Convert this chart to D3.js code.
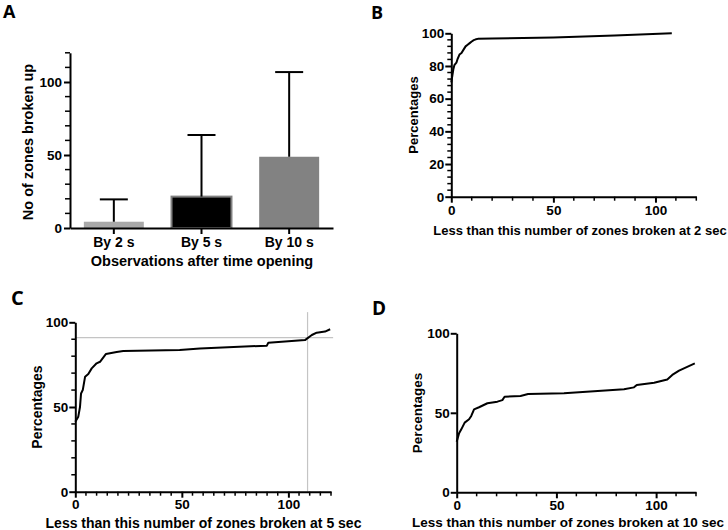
<!DOCTYPE html>
<html><head><meta charset="utf-8">
<script src="https://cdn.jsdelivr.net/npm/d3@7"></script>
<style>
body{margin:0;background:#fff;}
svg{display:block;}
text{font-family:"Liberation Sans",Arial,sans-serif;font-weight:bold;fill:#000;}
.letter{font-family:"Open Sans",sans-serif;font-weight:700;}
</style></head>
<body>
<svg id="c" width="728" height="530"></svg>
<script>
// ---- Data ----
const barCategories = ["By 2 s", "By 5 s", "By 10 s"];
const barMeans = [4.3, 21.5, 48.8];
const barUpper = [19.6, 63.7, 106.8];
const barColors = ["#a9a9a9", "#000000", "#828282"];

const bX = [0, 0.5, 1, 1.5, 2.5, 3, 4, 5, 6, 7, 8, 9, 10, 11, 12, 13, 20, 50, 80, 108];
const bY = [70, 74, 78, 80.5, 82, 84, 87, 88, 90, 92, 93, 94, 95, 95.8, 96.3, 96.6, 96.8, 97.4, 98.6, 100];

const cX = [0, 1.4, 2.2, 2.7, 3.5, 4.6, 6.1, 7.7, 10, 11.6, 14.4, 19.4, 22.5, 49, 58.5, 89.9, 90.6, 107.8, 111, 113.3, 117.2, 119.6];
const cY = [41.3, 44.3, 50, 58, 60, 67.9, 69.5, 72.8, 75.8, 76.7, 81.3, 82.5, 83.1, 83.6, 84.6, 86.2, 88, 89.5, 92.5, 93.9, 94.5, 95.9];
const cRefX = 109, cRefY = 91;

const dX = [0, 1.2, 2.3, 4, 6.2, 7.3, 8.7, 11.2, 15.4, 20.4, 22.9, 24, 32, 35.8, 53.8, 83.9, 88.9, 90.3, 99, 105.6, 108.1, 111.5, 119.4];
const dY = [31.8, 37.1, 39.6, 43.8, 45.9, 48, 52.2, 53.5, 56, 57, 58, 60.1, 60.6, 61.8, 62.3, 64.8, 66, 67.5, 68.9, 71, 73.8, 76.5, 81.1];

const svg = d3.select("#c");

function styleAxis(g){
  g.select(".domain").attr("stroke","#000").attr("stroke-width",2);
  g.selectAll(".tick line").attr("stroke","#000").attr("stroke-width",2);
  g.selectAll(".tick text").attr("font-size",13.5).attr("font-family","Liberation Sans, Arial, sans-serif").attr("font-weight","bold").attr("fill","#000");
}
function minorTicks(scale, vals, orient, pos, len){
  const g = svg.append("g");
  vals.forEach(v=>{
    if(orient==="left"){
      g.append("line").attr("x1",pos).attr("x2",pos-len).attr("y1",scale(v)).attr("y2",scale(v)).attr("stroke","#000").attr("stroke-width",1.5);
    } else {
      g.append("line").attr("y1",pos).attr("y2",pos+len).attr("x1",scale(v)).attr("x2",scale(v)).attr("stroke","#000").attr("stroke-width",1.5);
    }
  });
}

// ---- Panel A ----
{
  const x = d3.scaleBand().domain(barCategories).range([70,333]).paddingInner(0.316).paddingOuter(0.158);
  const y = d3.scaleLinear().domain([0,120]).range([228,52.8]);
  minorTicks(y, d3.range(10,121,10).filter(v=>v%50!==0), "left", 70, 5);
  svg.selectAll(".barA").data(barCategories).join("rect")
    .attr("x",d=>x(d)).attr("width",x.bandwidth())
    .attr("y",(d,i)=>y(barMeans[i])).attr("height",(d,i)=>y(0)-y(barMeans[i]))
    .attr("fill",(d,i)=>barColors[i])
    .attr("stroke",(d,i)=>i===1?"#808080":"none").attr("stroke-width",2);
  barCategories.forEach((d,i)=>{
    const cx = x(d)+x.bandwidth()/2;
    svg.append("line").attr("x1",cx).attr("x2",cx).attr("y1",y(barMeans[i])).attr("y2",y(barUpper[i])).attr("stroke","#000").attr("stroke-width",2);
    svg.append("line").attr("x1",cx-14).attr("x2",cx+14).attr("y1",y(barUpper[i])).attr("y2",y(barUpper[i])).attr("stroke","#000").attr("stroke-width",2);
  });
  const ga = svg.append("g").attr("transform","translate(70,0)").call(d3.axisLeft(y).tickValues([0,50,100]).tickSize(6).tickSizeOuter(0));
  styleAxis(ga);
  ga.selectAll(".tick text").attr("x",-8);
  const gb = svg.append("g").attr("transform","translate(0,228)").call(d3.axisBottom(x).tickSize(6).tickSizeOuter(0));
  styleAxis(gb);
  gb.selectAll(".tick text").attr("dy",null).attr("y",19).attr("font-size",14);
  svg.append("text").attr("transform","translate(33,142) rotate(-90)").attr("text-anchor","middle").attr("font-size",14.5).text("No of zones broken up");
  svg.append("text").attr("x",202).attr("y",266).attr("text-anchor","middle").attr("font-size",14.5).text("Observations after time opening");
  svg.append("text").attr("class","letter").attr("x",3).attr("y",18).attr("font-size",18).text("A");
}

function curvePanel(o){
  const x = d3.scaleLinear().domain([0,120]).range([o.x0,o.x1]);
  const y = d3.scaleLinear().domain([0,100]).range([o.y0,o.y1]);
  if(o.refs){
    svg.append("line").attr("x1",x(o.refs[0])).attr("x2",x(o.refs[0])).attr("y1",y(0)).attr("y2",y(106)).attr("stroke","#c4c4c4").attr("stroke-width",1.2);
    svg.append("line").attr("x1",x(0)).attr("x2",x(121)).attr("y1",y(o.refs[1])).attr("y2",y(o.refs[1])).attr("stroke","#c4c4c4").attr("stroke-width",1.2);
  }
  if(o.yMinor) minorTicks(y, d3.range(0,101,o.yMinor).filter(v=>v%o.yMajor!==0), "left", o.x0, 4);
  minorTicks(x, d3.range(0,121,o.xMinor).filter(v=>v%50!==0), "bottom", o.y0, 4);
  const ga = svg.append("g").attr("transform",`translate(${o.x0},0)`).call(d3.axisLeft(y).tickValues(d3.range(0,101,o.yMajor)).tickSize(6).tickSizeOuter(0));
  styleAxis(ga);
  ga.selectAll(".tick text").attr("x",-7);
  const gb = svg.append("g").attr("transform",`translate(0,${o.y0})`).call(d3.axisBottom(x).tickValues([0,50,100]).tickSize(6).tickSizeOuter(0));
  styleAxis(gb);
  gb.selectAll(".tick text").attr("dy",null).attr("y",o.xLabY);
  const line = d3.line().x(d=>x(d[0])).y(d=>y(d[1]));
  svg.append("path").datum(o.xs.map((v,i)=>[v,o.ys[i]])).attr("d",line).attr("fill","none").attr("stroke","#000").attr("stroke-width",2).attr("stroke-linejoin","round");
  svg.append("text").attr("transform",`translate(${o.ytX},${o.ytY}) rotate(-90)`).attr("text-anchor","middle").attr("font-size",o.fs).text("Percentages");
  svg.append("text").attr("x",o.xtX).attr("y",o.xtY).attr("text-anchor","middle").attr("font-size",o.fs).text(o.xTitle);
  svg.append("text").attr("class","letter").attr("x",o.lx).attr("y",o.ly).attr("font-size",o.lfs).text(o.letter);
}

curvePanel({x0:451.3,x1:696.3,y0:196.7,y1:33.3,yMajor:20,yMinor:4,xMinor:10,xs:bX,ys:bY,xLabY:18,
  ytX:418,ytY:115,xtX:580,xtY:235,fs:13,xTitle:"Less than this number of zones broken at 2 sec",letter:"B",lx:371,ly:19,lfs:18});
curvePanel({x0:75.3,x1:331,y0:491.7,y1:322.3,yMajor:50,yMinor:10,xMinor:5,xs:cX,ys:cY,xLabY:17,refs:[cRefX,cRefY],
  ytX:42,ytY:407,xtX:203.5,xtY:528,fs:14,xTitle:"Less than this number of zones broken at 5 sec",letter:"C",lx:11,ly:305,lfs:20});
curvePanel({x0:456.7,x1:696,y0:492.3,y1:333.3,yMajor:50,yMinor:0,xMinor:10,xs:dX,ys:dY,xLabY:17.5,
  ytX:422,ytY:413,xtX:568,xtY:527,fs:13.5,xTitle:"Less than this number of zones broken at 10 sec",letter:"D",lx:372,ly:315,lfs:19});
</script>
</body></html>
